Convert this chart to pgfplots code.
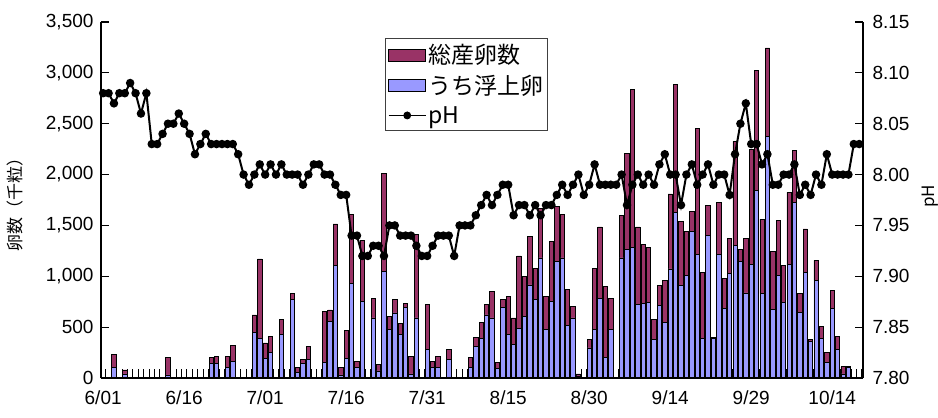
\documentclass[border=0pt]{standalone}
\usepackage{pgfplots}
\pgfplotsset{compat=1.18}
\usepackage{pgfplotstable}
\usepackage{fontspec}
\setmainfont{Liberation Sans}
\newfontfamily\cjk{Noto Sans CJK JP}
\definecolor{plum}{HTML}{993366}
\definecolor{peri}{HTML}{9999FF}

\pgfplotstableread{
x total blue
2 230 100
4 80 40
12 200 30
20 200 140
21 215 140
23 215 100
24 320 165
28 620 450
29 1170 390
30 345 195
31 410 250
33 575 425
35 830 775
36 100 55
37 185 140
38 310 185
41 655 150
42 670 555
43 1515 1105
44 100 30
45 470 195
46 1610 930
47 165 100
48 1355 755
50 785 590
51 130 70
52 2015 1050
53 605 475
54 770 640
55 540 425
56 735 690
57 213 40
58 1410 590
60 720 280
61 165 100
62 213 100
64 285 180
68 206 100
69 400 310
70 547 393
71 720 620
72 850 590
73 150 90
74 775 690
75 800 425
76 590 330
77 1200 490
78 1000 605
79 1390 915
80 1080 770
81 1670 1180
82 800 475
83 1345 755
84 1690 1150
85 1605 1180
86 875 515
87 705 590
88 40 20
90 377 295
91 1080 475
92 1485 785
93 900 206
94 785 475
96 1595 1180
97 2210 1260
98 2840 1280
99 1485 720
100 1310 737
101 1280 745
102 580 383
103 908 711
104 960 547
105 1810 1072
106 2885 1630
107 1540 908
108 1440 1006
109 1640 1440
110 2450 1212
111 1040 393
112 1695 1400
113 400 390
114 1727 1212
115 983 688
116 1376 1026
117 2327 1300
118 1268 1147
119 1376 836
120 2250 1114
121 3025 1845
122 1563 829
123 3245 2376
124 1245 678
125 1550 1006
126 1104 744
127 1825 1114
128 2238 1727
129 829 645
130 1465 1039
131 377 360
132 1157 960
133 508 393
134 250 150
135 860 680
136 410 280
137 110 40
138 110 105
}\eggs

\pgfplotstableread{
x ph
0 8.08
1 8.08
2 8.07
3 8.08
4 8.08
5 8.09
6 8.08
7 8.06
8 8.08
9 8.03
10 8.03
11 8.04
12 8.05
13 8.05
14 8.06
15 8.05
16 8.04
17 8.02
18 8.03
19 8.04
20 8.03
21 8.03
22 8.03
23 8.03
24 8.03
25 8.02
26 8.00
27 7.99
28 8.00
29 8.01
30 8.00
31 8.01
32 8.00
33 8.01
34 8.00
35 8.00
36 8.00
37 7.99
38 8.00
39 8.01
40 8.01
41 8.00
42 8.00
43 7.99
44 7.98
45 7.98
46 7.94
47 7.94
48 7.92
49 7.92
50 7.93
51 7.93
52 7.92
53 7.95
54 7.95
55 7.94
56 7.94
57 7.94
58 7.93
59 7.92
60 7.92
61 7.93
62 7.94
63 7.94
64 7.94
65 7.92
66 7.95
67 7.95
68 7.95
69 7.96
70 7.97
71 7.98
72 7.97
73 7.98
74 7.99
75 7.99
76 7.96
77 7.97
78 7.97
79 7.96
80 7.97
81 7.96
82 7.97
83 7.97
84 7.98
85 7.99
86 7.98
87 7.99
88 8.00
89 7.98
90 7.99
91 8.01
92 7.99
93 7.99
94 7.99
95 7.99
96 8.00
97 7.97
98 7.99
99 8.00
100 7.99
101 8.00
102 7.99
103 8.01
104 8.02
105 8.00
106 8.00
107 7.97
108 8.00
109 8.01
110 7.99
111 8.00
112 8.01
113 7.99
114 8.00
115 8.00
116 7.98
117 8.02
118 8.05
119 8.07
120 8.03
121 8.03
122 8.01
123 8.02
124 7.99
125 7.99
126 8.00
127 8.00
128 8.01
129 7.98
130 7.99
131 7.98
132 8.00
133 7.99
134 8.02
135 8.00
136 8.00
137 8.00
138 8.00
139 8.03
140 8.03
}\phdata

\begin{document}
\begin{tikzpicture}
\begin{axis}[
  name=main,
  scale only axis, width=762pt, height=356pt,
  xmin=-0.4, xmax=140.7, ymin=0, ymax=3500,
  axis y line*=left, axis x line*=bottom,
  axis line style={line width=1.3pt, -},
  axis on top,
  tick align=inside,
  ytick={0,500,...,3500},
  major tick length=8pt,
  tick style={black, line width=1.1pt},
  xtick={0,15,...,135},
  xticklabels={6/01,6/16,7/01,7/16,7/31,8/15,8/30,9/14,9/29,10/14},
  major x tick style={draw=none},
  minor xtick={-0.5,0.5,...,140.5},
  minor tick length=9pt,
  minor x tick style={black, line width=1.1pt},
  ticklabel style={font=\fontsize{19}{19}\selectfont},
  /pgf/number format/assume math mode=true,
  /pgf/number format/1000 sep={,},
  scaled y ticks=false,
  xticklabel style={yshift=-9pt},
  yticklabel style={xshift=-4pt},
  ylabel={\cjk\fontsize{17}{17}\selectfont 卵数（千粒）},
  ylabel style={at={(axis description cs:-0.113,0.5)}, anchor=center},
  ybar stacked, bar width=0.8,
  clip=false,
]
\addplot[fill=peri, draw=black, line width=0.7pt] table[x=x, y=blue] {\eggs};
\addplot[fill=plum, draw=black, line width=0.7pt] table[x=x, y expr=\thisrow{total}-\thisrow{blue}] {\eggs};
\end{axis}
\begin{axis}[
  scale only axis, width=762pt, height=356pt,
  xmin=-0.4, xmax=140.7, ymin=7.80, ymax=8.15,
  axis y line*=right, axis x line=none,
  axis line style={line width=1.3pt, -},
  tick align=inside,
  major tick length=8pt,
  tick style={black, line width=1.1pt},
  ytick={7.80,7.85,7.90,7.95,8.00,8.05,8.10,8.15},
  ticklabel style={font=\fontsize{19}{19}\selectfont},
  /pgf/number format/assume math mode=true,
  /pgf/number format/fixed,
  /pgf/number format/fixed zerofill,
  /pgf/number format/precision=2,
  yticklabel style={xshift=6pt},
  ylabel={\cjk\fontsize{17}{17}\selectfont pH},
  ylabel style={at={(axis description cs:1.088,0.51)}, anchor=center, rotate=0},
  legend style={at={(0.373,0.955)}, anchor=north west, draw=black!75, line width=1.2pt,
    font=\cjk\fontsize{23}{23}\selectfont, inner xsep=2pt, inner ysep=4pt,
    row sep=6pt, cells={anchor=west}},
  legend cell align=left,
]
\addlegendimage{legend image code/.code={\draw[fill=plum, draw=black, line width=0.8pt] (0pt,-6pt) rectangle (37pt,6pt);}}
\addlegendentry{総産卵数}
\addlegendimage{legend image code/.code={\draw[fill=peri, draw=black, line width=0.8pt] (0pt,-6pt) rectangle (37pt,6pt);}}
\addlegendentry{うち浮上卵}
\addlegendimage{legend image code/.code={\draw[black, line width=1.8pt] (0pt,0pt) -- (37pt,0pt); \fill[black] (18.5pt,0pt) circle (3.3pt);}}
\addlegendentry{pH}
\addplot[black, line width=2pt, mark=*, mark size=3.2pt, mark options={fill=black}] table[x=x, y=ph] {\phdata};
\end{axis}
\pgfresetboundingbox
\path[use as bounding box] (-101pt,-40pt) rectangle (837pt,378pt);
\end{tikzpicture}
\end{document}
